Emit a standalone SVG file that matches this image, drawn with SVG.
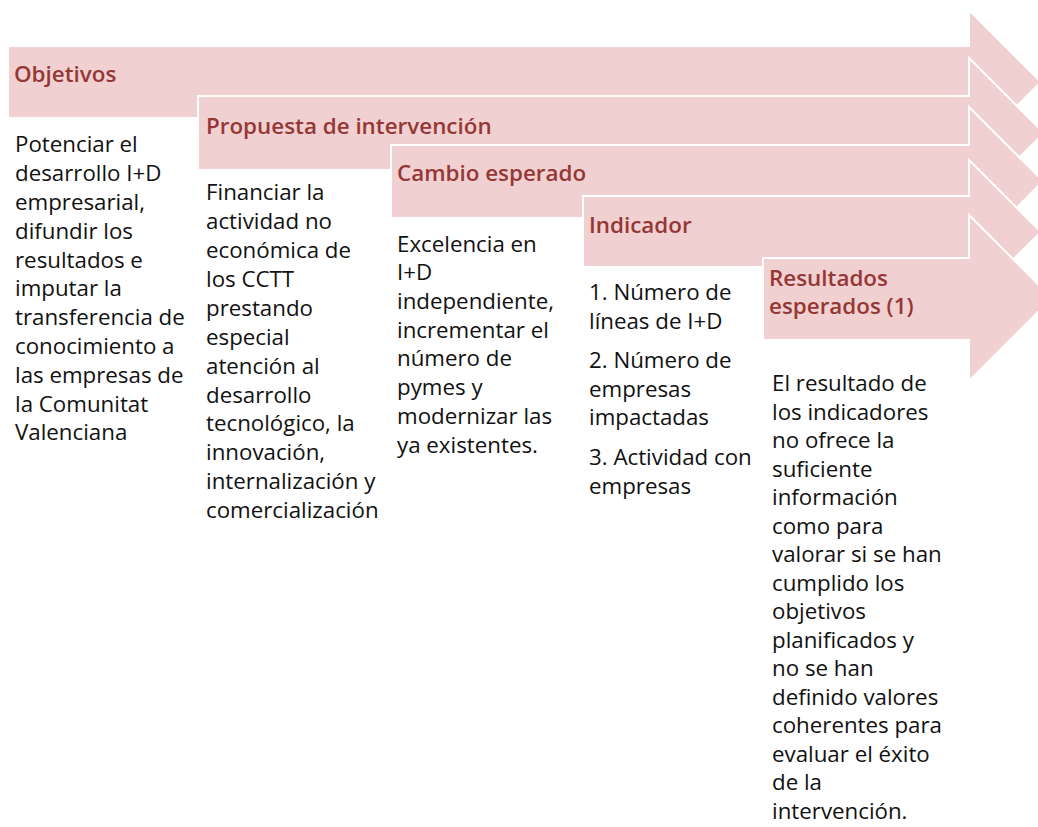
<svg xmlns="http://www.w3.org/2000/svg" width="1038" height="827" viewBox="0 0 1038 827">
<style>
.arrow{fill:#F1D0D1;stroke:#FFFFFF;stroke-width:2;stroke-linejoin:miter}
.title{font-family:"Open Sans","Noto Sans",sans-serif;font-size:22.4px;font-weight:600;fill:#953735}
.body{font-family:"Open Sans","Noto Sans",sans-serif;font-size:22.3px;fill:#111111}
</style>
<rect width="1038" height="827" fill="#FFFFFF"/>
<g id="step1">
<polygon class="arrow" points="8,46 969,46 969,10 1041,82 969,154 969,118 8,118"/>
<text class="title" x="14" y="82">Objetivos</text>
<text class="body" x="15"><tspan x="15" y="152">Potenciar el</tspan><tspan x="15" y="181">desarrollo I+D</tspan><tspan x="15" y="210">empresarial,</tspan><tspan x="15" y="239">difundir los</tspan><tspan x="15" y="268">resultados e</tspan><tspan x="15" y="296">imputar la</tspan><tspan x="15" y="325">transferencia de</tspan><tspan x="15" y="354">conocimiento a</tspan><tspan x="15" y="383">las empresas de</tspan><tspan x="15" y="412">la Comunitat</tspan><tspan x="15" y="440">Valenciana</tspan></text>
</g>
<g id="step2">
<polygon class="arrow" points="198,96 969,96 969,58 1044,133 969,208 969,170 198,170"/>
<text class="title" x="206" y="134">Propuesta de intervención</text>
<text class="body" x="206"><tspan x="206" y="200">Financiar la</tspan><tspan x="206" y="229">actividad no</tspan><tspan x="206" y="258">económica de</tspan><tspan x="206" y="287">los CCTT</tspan><tspan x="206" y="316">prestando</tspan><tspan x="206" y="345">especial</tspan><tspan x="206" y="374">atención al</tspan><tspan x="206" y="403">desarrollo</tspan><tspan x="206" y="431">tecnológico, la</tspan><tspan x="206" y="460">innovación,</tspan><tspan x="206" y="489">internalización y</tspan><tspan x="206" y="518">comercialización</tspan></text>
</g>
<g id="step3">
<polygon class="arrow" points="391,145 969,145 969,107 1043,181 969,256 969,218 391,218"/>
<text class="title" x="397" y="181">Cambio esperado</text>
<text class="body" x="397"><tspan x="397" y="252">Excelencia en</tspan><tspan x="397" y="280">I+D</tspan><tspan x="397" y="309">independiente,</tspan><tspan x="397" y="338">incrementar el</tspan><tspan x="397" y="366">número de</tspan><tspan x="397" y="395">pymes y</tspan><tspan x="397" y="424">modernizar las</tspan><tspan x="397" y="453">ya existentes.</tspan></text>
</g>
<g id="step4">
<polygon class="arrow" points="583,196 969,196 969,160 1041,232 969,303 969,267 583,267"/>
<text class="title" x="589" y="233">Indicador</text>
<text class="body" x="589"><tspan x="589" y="300">1. Número de</tspan><tspan x="589" y="329">líneas de I+D</tspan><tspan x="589" y="368">2. Número de</tspan><tspan x="589" y="397">empresas</tspan><tspan x="589" y="425">impactadas</tspan><tspan x="589" y="465">3. Actividad con</tspan><tspan x="589" y="494">empresas</tspan></text>
</g>
<g id="step5">
<polygon class="arrow" points="763,258 969,258 969,215 1052,298 969,381 969,340 763,340"/>
<text class="title" x="769"><tspan x="769" y="286">Resultados</tspan><tspan x="769" y="314">esperados (1)</tspan></text>
<text class="body" x="772"><tspan x="772" y="391">El resultado de</tspan><tspan x="772" y="419.5">los indicadores</tspan><tspan x="772" y="448">no ofrece la</tspan><tspan x="772" y="476.5">suficiente</tspan><tspan x="772" y="505">información</tspan><tspan x="772" y="533.5">como para</tspan><tspan x="772" y="562">valorar si se han</tspan><tspan x="772" y="590.5">cumplido los</tspan><tspan x="772" y="619">objetivos</tspan><tspan x="772" y="647.5">planificados y</tspan><tspan x="772" y="676">no se han</tspan><tspan x="772" y="704.5">definido valores</tspan><tspan x="772" y="733">coherentes para</tspan><tspan x="772" y="761.5">evaluar el éxito</tspan><tspan x="772" y="790">de la</tspan><tspan x="772" y="818.5">intervención.</tspan></text>
</g>
<g id="connectors"/>
</svg>
